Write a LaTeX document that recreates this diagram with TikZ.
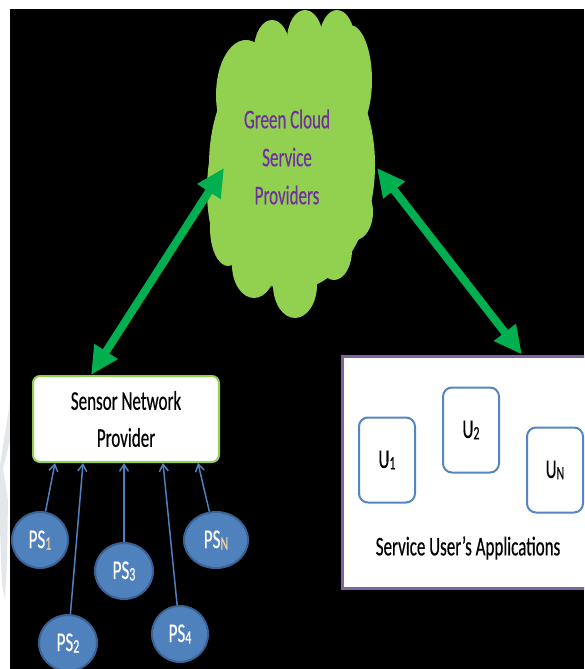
\documentclass[tikz,border=0pt]{standalone}
\usepackage{fontspec}
\setmainfont{Carlito}[FakeStretch=0.63,FakeBold=0.4]
\usetikzlibrary{arrows.meta,shapes.geometric,calc}
\definecolor{cloudgreen}{HTML}{92D050}
\definecolor{arrowgreen}{HTML}{00B050}
\definecolor{cloudtext}{HTML}{7030A0}
\definecolor{psblue}{HTML}{4F81BD}
\definecolor{psedge}{HTML}{3A6294}
\definecolor{suapurple}{HTML}{8064A2}
\definecolor{ublue}{HTML}{5585C5}
\definecolor{subtan}{HTML}{F5D2A0}
\definecolor{wmgray}{HTML}{E3E7EA}
\newcommand{\sbs}[1]{\raisebox{-1.5pt}{\fontsize{19}{19}\selectfont #1}}
\begin{document}
\begin{tikzpicture}[x=1pt,y=-1pt,
  txt/.style={font=\fontsize{27}{37}\selectfont, align=center, inner sep=0pt},
  snpbox/.style={txt, rectangle, rounded corners=7pt, draw=cloudgreen, line width=2pt, fill=white,
    minimum width=186pt, minimum height=86pt},
  suabox/.style={rectangle, draw=suapurple, line width=3pt, fill=white,
    minimum width=250pt, minimum height=232pt},
  ubox/.style={txt, rectangle, rounded corners=9pt, draw=ublue, line width=2pt, fill=white,
    minimum width=56pt, minimum height=85pt},
  psnode/.style={txt, ellipse, fill=psblue, draw=psedge, line width=2pt, text=white,
    minimum width=56pt, minimum height=56pt},
  psarrow/.style={-{Straight Barb[length=7pt,width=9pt]}, line width=1.5pt, psblue},
  garrow/.style={{Triangle[length=28pt,width=26pt]}-{Triangle[length=28pt,width=26pt]},
    line width=8pt, arrowgreen},
  cloudpart/.style={fill=cloudgreen}
]
\useasboundingbox (0,0) rectangle (584,669);
\clip (0,0) rectangle (584,669);
\fill[white] (0,0) rectangle (584,669);
% faint watermark in the white strip
\fill[wmgray] (10,402) -- (10,440) -- (3,468) -- (8,500) -- (7,560) -- (5,600) -- (2,585) -- (0,530) -- (0,465) -- cycle;
% black background
\fill[black] (10,9) rectangle (584,669);

% legend (black on black)
\node[txt, anchor=west, text=black] (leg1) at (28,85) {PS – Physical Sensors};
\node[txt, anchor=west, text=black] (leg2) at (28,133) {U – Service Users};

% cloud
\fill[cloudpart] (292,165) ellipse (83 and 125);
\fill[cloudpart] (272,50) ellipse (18 and 30);
\fill[cloudpart] (305,40) ellipse (18 and 30);
\fill[cloudpart] (337,42) ellipse (18 and 32);
\fill[cloudpart] (246,95) ellipse (30 and 55);
\fill[cloudpart] (350,80) ellipse (22 and 55);
\fill[cloudpart] (226,190) ellipse (19 and 62);
\fill[cloudpart] (228,228) ellipse (18 and 38);
\fill[cloudpart] (254,265) ellipse (22 and 33);
\fill[cloudpart] (295,285) ellipse (22 and 33);
\fill[cloudpart] (334,250) ellipse (18 and 30);
\fill[cloudpart] (355,212) ellipse (18 and 28);
\node[txt, text=cloudtext, font=\fontsize{27}{38}\selectfont] (gcsp) at (287,157) {Green Cloud\\Service\\Providers};
\coordinate (cloudL) at (224,168);
\coordinate (cloudR) at (377,168);

% sensor network provider
\node[snpbox] (snp) at (126,419) {Sensor Network\\Provider};

% service user's applications
\node[suabox] (sua) at (467,472) {};
\node[txt] (sual) at (468,548) {Service User’s Applications};
\node[ubox] (u1) at (387,460) {U\sbs{1}};
\node[ubox] (u2) at (471,430) {U\sbs{2}};
\node[ubox] (un) at (555,470) {U\sbs{N}};

% physical sensors
\node[psnode] (ps1) at (40,540) {PS\sbs{\textcolor{subtan}{1}}};
\node[psnode, minimum width=58pt] (ps2) at (68,643) {PS\sbs{2}};
\node[psnode, minimum width=58pt] (ps3) at (124,571) {PS\sbs{3}};
\node[psnode] (ps4) at (180,634) {PS\sbs{4}};
\node[psnode, minimum width=64pt] (psn) at (216,540) {PS\sbs{\textcolor{subtan}{N}}};

\draw[psarrow] (ps1) -- ([xshift=-71pt]snp.south);
\draw[psarrow] (ps2) -- ([xshift=-43pt]snp.south);
\draw[psarrow] (ps3) -- ([xshift=-2pt]snp.south);
\draw[psarrow] (ps4) -- ([xshift=37pt]snp.south);
\draw[psarrow] (psn) -- ([xshift=72pt]snp.south);

% green double arrows
\draw[garrow] ([xshift=-35pt]snp.north) -- (cloudL);
\draw[garrow] (cloudR) -- ([xshift=55pt]sua.north);
\end{tikzpicture}
\end{document}
